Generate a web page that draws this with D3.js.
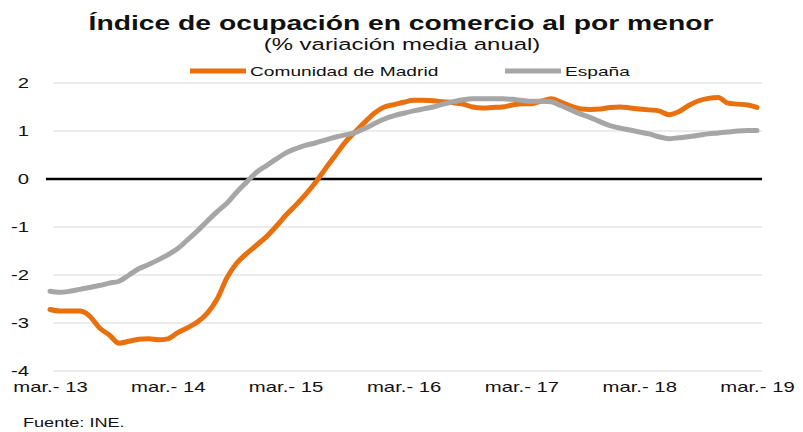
<!DOCTYPE html>
<html>
<head>
<meta charset="utf-8">
<script src="https://cdn.jsdelivr.net/npm/d3@7"></script>
<style>
  body { margin: 0; background: #fff; }
  text { font-family: "Liberation Sans", Arial, sans-serif; fill: #111; }
</style>
</head>
<body>
<div id="chart"></div>
<script>
// monthly series, mar-2013 .. mar-2019 (73 points)
const startMonth = new Date(2013, 2, 1);
const madrid = [
  -2.72, -2.75, -2.75, -2.75, -2.85, -3.10, -3.25, -3.42, -3.38, -3.34,
  -3.33, -3.35, -3.33, -3.20, -3.10, -2.98, -2.80, -2.50, -2.05, -1.75,
  -1.55, -1.38, -1.20, -0.98, -0.76, -0.55, -0.33, -0.08, 0.20, 0.48,
  0.76, 0.97, 1.18, 1.37, 1.50, 1.55, 1.60, 1.64, 1.64, 1.63,
  1.61, 1.59, 1.56, 1.50, 1.48, 1.49, 1.50, 1.54, 1.57, 1.57,
  1.62, 1.67, 1.60, 1.52, 1.46, 1.45, 1.46, 1.49, 1.50, 1.48,
  1.46, 1.44, 1.42, 1.34, 1.40, 1.53, 1.63, 1.68, 1.70, 1.58,
  1.56, 1.54, 1.49
];
const espana = [
  -2.34, -2.36, -2.34, -2.30, -2.26, -2.22, -2.17, -2.13, -2.00, -1.87,
  -1.78, -1.68, -1.58, -1.45, -1.27, -1.08, -0.88, -0.68, -0.50, -0.27,
  -0.06, 0.14, 0.28, 0.42, 0.54, 0.63, 0.70, 0.75, 0.81, 0.87,
  0.92, 0.96, 1.05, 1.15, 1.25, 1.32, 1.37, 1.42, 1.46, 1.50,
  1.56, 1.61, 1.65, 1.67, 1.67, 1.67, 1.67, 1.66, 1.64, 1.62,
  1.62, 1.61, 1.53, 1.44, 1.35, 1.28, 1.19, 1.11, 1.06, 1.02,
  0.98, 0.94, 0.88, 0.84, 0.86, 0.88, 0.91, 0.94, 0.96, 0.98,
  1.00, 1.01, 1.01
];
const seriesNames = ["Comunidad de Madrid", "España"];
const seriesColors = ["#e8700e", "#a6a6a6"];
const yTicks = [2, 1, 0, -1, -2, -3, -4];
const xTickYears = [2013, 2014, 2015, 2016, 2017, 2018, 2019];
const title = "Índice de ocupación en comercio al por menor";
const subtitle = "(% variación media anual)";
const source = "Fuente: INE.";

// the original text is stretched horizontally
const SX = 1.45;

const W = 803, H = 432;
const svg = d3.select("#chart").append("svg")
  .attr("width", W).attr("height", H);

const x = d3.scaleTime()
  .domain([startMonth, new Date(2019, 2, 1)])
  .range([50, 757]);
const y = d3.scaleLinear().domain([-4, 2]).range([371, 83]);

const dates = madrid.map((_, i) => d3.timeMonth.offset(startMonth, i));

// gridlines
svg.append("g")
  .selectAll("line")
  .data(yTicks.filter(d => d !== 0))
  .join("line")
    .attr("x1", 53).attr("x2", 762)
    .attr("y1", d => y(d)).attr("y2", d => y(d))
    .attr("stroke", "#d9d9d9")
    .attr("stroke-width", 1);

// y labels
svg.append("g")
  .selectAll("text")
  .data(yTicks)
  .join("text")
    .attr("transform", d => `translate(29,${y(d) + 5}) scale(${SX},1)`)
    .attr("text-anchor", "end")
    .style("font-size", "14px")
    .text(d => d);

// zero line
svg.append("line")
  .attr("x1", 46).attr("x2", 762)
  .attr("y1", y(0)).attr("y2", y(0))
  .attr("stroke", "#000")
  .attr("stroke-width", 2.5);

// x axis labels
const xAxis = d3.axisBottom(x)
  .tickValues(xTickYears.map(yr => new Date(yr, 2, 1)))
  .tickSize(0)
  .tickFormat(d => "mar.- " + String(d.getFullYear()).slice(2));

svg.append("g")
  .attr("transform", "translate(0,379)")
  .call(xAxis)
  .call(g => g.select(".domain").remove())
  .selectAll("text")
    .attr("y", 0).attr("dy", 0)
    .attr("transform", `translate(0,13) scale(${SX},1)`)
    .style("font-size", "14px")
    .style("font-family", '"Liberation Sans", Arial, sans-serif')
    .attr("fill", "#111");

// lines
const line = d3.line()
  .x((d, i) => x(dates[i]))
  .y(d => y(d))
  .curve(d3.curveMonotoneX);

[madrid, espana].forEach((s, k) => {
  svg.append("path")
    .datum(s)
    .attr("fill", "none")
    .attr("stroke", seriesColors[k])
    .attr("stroke-width", 5)
    .attr("stroke-linejoin", "round")
    .attr("stroke-linecap", "round")
    .attr("d", line);
});

// title & subtitle
svg.append("text")
  .attr("transform", `translate(401,30) scale(${SX},1)`)
  .attr("text-anchor", "middle")
  .style("font-size", "19.5px")
  .style("font-weight", "bold")
  .text(title);

svg.append("text")
  .attr("transform", `translate(402,50) scale(${SX},1)`)
  .attr("text-anchor", "middle")
  .style("font-size", "16.5px")
  .attr("fill", "#222")
  .text(subtitle);

// legend
const legendX = [190, 505];
const legend = svg.append("g");
seriesNames.forEach((name, k) => {
  legend.append("line")
    .attr("x1", legendX[k]).attr("x2", legendX[k] + 56)
    .attr("y1", 71).attr("y2", 71)
    .attr("stroke", seriesColors[k])
    .attr("stroke-width", 5);
  legend.append("text")
    .attr("transform", `translate(${legendX[k] + 60},76) scale(${SX},1)`)
    .style("font-size", "13.2px")
    .attr("fill", "#222")
    .text(name);
});

// source
svg.append("text")
  .attr("transform", `translate(23,427) scale(${SX},1)`)
  .style("font-size", "12.5px")
  .attr("fill", "#222")
  .text(source);
</script>
</body>
</html>
